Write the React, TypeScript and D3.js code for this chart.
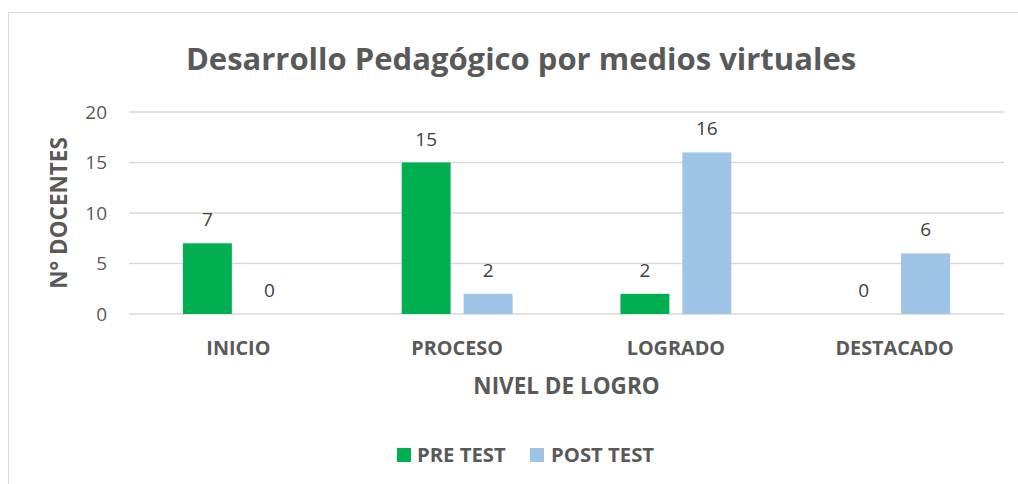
import * as d3 from "d3";
import React from "react";

const categories = ["INICIO", "PROCESO", "LOGRADO", "DESTACADO"];
const seriesNames = ["PRE TEST", "POST TEST"];
const preTest = [7, 15, 2, 0];
const postTest = [0, 2, 16, 6];
const yTicks = [0, 5, 10, 15, 20];
const seriesColors = ["#00B050", "#9DC3E6"];

const W = 1018;
const H = 484;
const plot = { left: 129, right: 1004, top: 112, bottom: 314 };
const font = "'Open Sans', sans-serif";

export default function App() {
  const values = [preTest, postTest];

  const x0 = d3
    .scaleBand<string>()
    .domain(categories)
    .range([plot.left, plot.right])
    .paddingInner(0.493)
    .paddingOuter(0.2465);

  const x1 = d3
    .scaleBand<string>()
    .domain(seriesNames)
    .range([0, x0.bandwidth()])
    .paddingInner(0.21);

  const y = d3.scaleLinear().domain([0, 20]).range([plot.bottom, plot.top]);

  return (
    <div style={{ position: "fixed", left: 0, top: 0 }}>
      <svg width={W} height={H} style={{ display: "block", background: "#fff" }}>
        {/* chart frame */}
        <rect x={8.5} y={12.5} width={1030} height={490} fill="#fff" stroke="#d9d9d9" />

        <text
          x={521}
          y={70}
          textAnchor="middle"
          fontFamily={font}
          fontWeight="bold"
          fontSize={31}
          fill="#595959"
        >
          Desarrollo Pedagógico por medios virtuales
        </text>

        {/* gridlines + y ticks */}
        {yTicks.map((t) => (
          <g key={t}>
            <line
              x1={plot.left}
              x2={plot.right}
              y1={y(t)}
              y2={y(t)}
              stroke="#d9d9d9"
              strokeWidth={1.3}
            />
            <text
              x={107}
              y={y(t)}
              dy="0.36em"
              textAnchor="end"
              fontFamily={font}
              fontSize={19}
              fill="#595959"
            >
              {t}
            </text>
          </g>
        ))}

        {/* bars */}
        {categories.map((c, ci) => (
          <g key={c} transform={`translate(${x0(c)},0)`}>
            {seriesNames.map((s, si) => {
              const v = values[si][ci];
              return (
                <g key={s}>
                  <rect
                    x={x1(s)}
                    y={y(v)}
                    width={x1.bandwidth()}
                    height={plot.bottom - y(v)}
                    fill={seriesColors[si]}
                  />
                  <text
                    x={(x1(s) || 0) + x1.bandwidth() / 2}
                    y={y(v) - 17}
                    textAnchor="middle"
                    fontFamily={font}
                    fontSize={19}
                    fill="#404040"
                  >
                    {v}
                  </text>
                </g>
              );
            })}
          </g>
        ))}

        {/* category labels */}
        {categories.map((c) => (
          <text
            key={c}
            x={(x0(c) || 0) + x0.bandwidth() / 2}
            y={355}
            textAnchor="middle"
            fontFamily={font}
            fontWeight="bold"
            fontSize={19.8}
            fill="#595959"
          >
            {c}
          </text>
        ))}

        <text
          x={(plot.left + plot.right) / 2}
          y={394}
          textAnchor="middle"
          fontFamily={font}
          fontWeight="bold"
          fontSize={22.5}
          fill="#595959"
        >
          NIVEL DE LOGRO
        </text>

        <text
          transform={`translate(67,213) rotate(-90)`}
          textAnchor="middle"
          fontFamily={font}
          fontWeight="bold"
          fontSize={22.5}
          fill="#595959"
        >
          N° DOCENTES
        </text>

        {/* legend */}
        <g>
          <rect x={397} y={448} width={14} height={14} fill={seriesColors[0]} />
          <text x={417} y={462} fontFamily={font} fontWeight="bold" fontSize={20.3} fill="#595959">
            {seriesNames[0]}
          </text>
          <rect x={530} y={448} width={14} height={14} fill={seriesColors[1]} />
          <text x={551} y={462} fontFamily={font} fontWeight="bold" fontSize={20.3} fill="#595959">
            {seriesNames[1]}
          </text>
        </g>
      </svg>
    </div>
  );
}
